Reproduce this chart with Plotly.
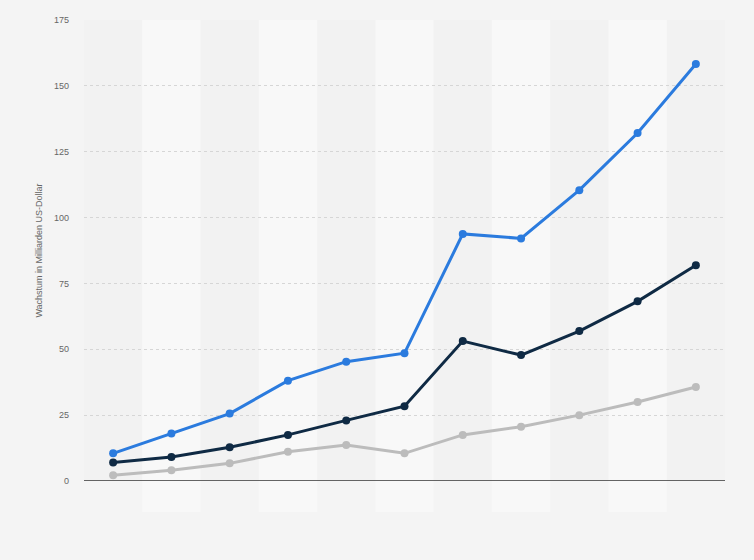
import plotly.graph_objects as go

categories = ["2013", "2014", "2015", "2016", "2017", "2018", "2019", "2020", "2021", "2022", "2023"]
series_blue = [10.5, 18.0, 25.6, 38.1, 45.3, 48.5, 93.8, 92.1, 110.4, 132.1, 158.3]
series_dark = [7.0, 9.1, 12.8, 17.5, 23.0, 28.4, 53.1, 47.8, 56.9, 68.2, 81.9]
series_gray = [2.2, 4.1, 6.7, 11.1, 13.7, 10.5, 17.5, 20.6, 25.0, 30.0, 35.7]
y_ticks = [0, 25, 50, 75, 100, 125, 150, 175]

fig = go.Figure()
for vals, col in [(series_gray, "#bcbcbc"), (series_dark, "#0f2a44"), (series_blue, "#2b7bde")]:
    fig.add_trace(go.Scatter(
        x=categories, y=vals, mode="lines+markers",
        line=dict(color=col, width=3),
        marker=dict(color=col, size=8),
        showlegend=False, hoverinfo="x+y",
    ))

shapes = []
for i, c in enumerate(categories):
    if i % 2 == 1:
        shapes.append(dict(type="rect", xref="x", yref="paper",
                           x0=i - 0.5, x1=i + 0.5, y0=-0.067, y1=1,
                           fillcolor="#f8f8f8", line=dict(width=0), layer="below"))

fig.update_layout(
    width=754, height=560,
    margin=dict(l=84, r=29, t=20, b=79),
    paper_bgcolor="#f4f4f4",
    plot_bgcolor="#f2f2f2",
    shapes=shapes,
    font=dict(family="Arial, Liberation Sans, sans-serif", color="#666666", size=9),
    xaxis=dict(
        type="category", range=[-0.5, 10.5],
        showticklabels=False, showgrid=False, zeroline=False,
        showline=False, ticks="",
    ),
    yaxis=dict(
        range=[0, 175], tickvals=y_ticks, ticktext=[str(v) for v in y_ticks],
        showgrid=True, gridcolor="#d6d6d6", griddash="dot", gridwidth=1,
        zeroline=False, showline=False, ticks="",
        ticklabelstandoff=14,
        tickfont=dict(size=9, color="#666666"),
        title=dict(text="Wachstum in Milliarden US-Dollar", font=dict(size=9, color="#666666"), standoff=9),
    ),
)
fig.add_hline(y=0, line=dict(color="#333333", width=1.5))
fig.write_html(
    "out.html",
    config={"displayModeBar": False},
    post_script="document.body.style.margin='0';document.body.style.background='#f4f4f4';document.body.style.overflow='hidden';",
)
